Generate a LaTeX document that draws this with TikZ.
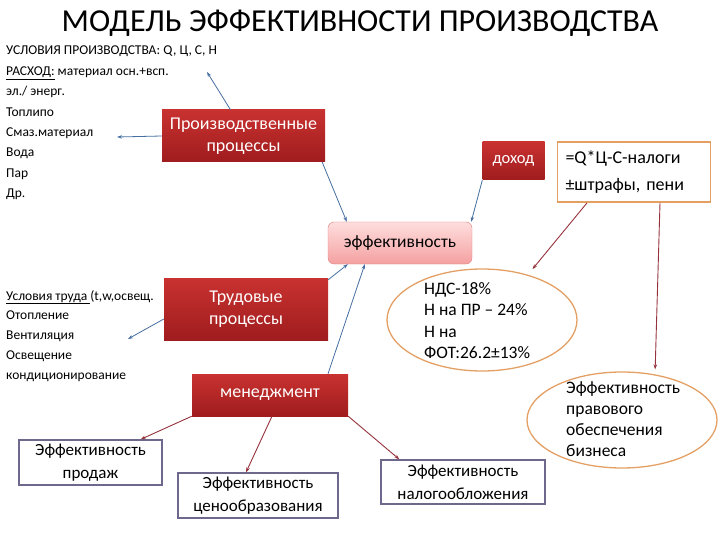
\documentclass[tikz,border=0pt]{standalone}
\usepackage{fontspec}
\setmainfont{Carlito}
\usetikzlibrary{arrows.meta,shapes.geometric}
\definecolor{procred}{RGB}{200,50,48}
\definecolor{procdark}{RGB}{160,28,30}
\definecolor{effpink}{RGB}{255,222,222}
\definecolor{effrose}{RGB}{244,160,160}
\definecolor{effedge}{RGB}{228,128,128}
\definecolor{linkblue}{RGB}{70,110,160}
\definecolor{linkred}{RGB}{150,50,60}
\definecolor{rimorange}{RGB}{228,160,100}
\definecolor{rimgrey}{RGB}{110,105,140}
\begin{document}
\begin{tikzpicture}[x=1pt,y=-1pt,
    procbox/.style={rectangle,top color=procred,bottom color=procdark,draw=none,
      text=white,align=center,font=\fontsize{18}{22}\selectfont},
    resultbox/.style={rectangle,draw=rimgrey,line width=1.3pt,fill=white,
      align=center,font=\fontsize{17}{23}\selectfont},
    noteoval/.style={ellipse,draw=rimorange,line width=1.3pt,fill=white,
      inner sep=0pt},
    bluelink/.style={linkblue,line width=0.8pt,-{Stealth[length=5pt,width=3.5pt]}},
    redlink/.style={linkred,line width=0.9pt,-{Stealth[length=5pt,width=3.5pt]}}]
    \useasboundingbox (0,0) rectangle (720,540);
    \node (title) at (360,23) {\fontsize{32}{36}\selectfont МОДЕЛЬ ЭФФЕКТИВНОСТИ ПРОИЗВОДСТВА};

    \node[anchor=north west,align=left,inner sep=0pt,font=\fontsize{13.5}{20.4}\selectfont]
      (conds) at (6,46) {УСЛОВИЯ ПРОИЗВОДСТВА: Q, Ц, С, Н\\
      \underline{РАСХОД:} материал осн.+всп.\\
      эл./ энерг.\\
      Топлипо\\
      Смаз.материал\\
      Вода\\
      Пар\\
      Др.};
    \node[anchor=north west,align=left,inner sep=0pt,font=\fontsize{13.5}{19.8}\selectfont]
      (labour) at (6,290) {\underline{Условия труда }(t,w,освещ.\\
      Отопление\\
      Вентиляция\\
      Освещение\\
      кондиционирование};

    \node[procbox,minimum width=163pt,minimum height=52pt] (prod) at (243.5,136)
      {Производственные\\процессы};
    \node[procbox,minimum width=62pt,minimum height=38pt,
      font=\fontsize{16.5}{20}\selectfont] (dohod) at (513.5,161) {доход};
    \node[rectangle,draw=rimorange,line width=1.8pt,fill=white,align=left,
      inner xsep=8pt,text width=137pt,minimum height=60pt,
      font=\fontsize{18}{27}\selectfont] (formula) at (634,172)
      {=Q*Ц-С-налоги\\±штрафы, пени};
    \node[rectangle,rounded corners=6pt,top color=effpink,bottom color=effrose,
      draw=effedge,minimum width=144pt,minimum height=42pt,
      font=\fontsize{17.5}{20}\selectfont] (eff) at (400,243) {эффективность};
    \node[noteoval,minimum width=190pt,minimum height=102pt] (nds) at (482,320) {};
    \node[anchor=north west,align=left,inner sep=0pt,font=\fontsize{17.5}{21.5}\selectfont]
      (ndstext) at (424,282) {НДС-18\%\\Н на ПР – 24\%\\Н на\\ФОТ:26.2±13\%};
    \node[noteoval,minimum width=190pt,minimum height=96pt] (pravo) at (622,420) {};
    \node[anchor=north west,align=left,inner sep=0pt,font=\fontsize{17.5}{21.3}\selectfont]
      (pravotext) at (566,381) {Эффективность\\правового\\обеспечения\\бизнеса};
    \node[procbox,minimum width=164pt,minimum height=62pt] (trud) at (246,309)
      {Трудовые\\процессы};
    \node[procbox,minimum width=156pt,minimum height=42pt] (menedzh) at (270,395)
      {менеджмент};
    \node[resultbox,minimum width=143pt,minimum height=45pt] (prodazh) at (90.5,462.5)
      {Эффективность\\продаж};
    \node[resultbox,minimum width=160pt,minimum height=45pt] (ceno) at (258,495.5)
      {Эффективность\\ценообразования};
    \node[resultbox,minimum width=164pt,minimum height=44pt] (nalog) at (463,482)
      {Эффективность\\налогообложения};

    \coordinate (rashod) at (207,72);
    \coordinate (smaz) at (117,137);
    \coordinate (vent) at (128,339);
    \draw[bluelink] ([xshift=-13pt]prod.north) -- (rashod);
    \draw[bluelink] (prod.west) -- (smaz);
    \draw[bluelink] ([xshift=-3pt]prod.south east) -- ([xshift=19pt]eff.north west);
    \draw[bluelink] (dohod.south west) -- ([xshift=-1pt]eff.north east);
    \draw[bluelink] ([yshift=-10pt]trud.west) -- (vent);
    \draw[bluelink] ([yshift=-2pt]trud.north east) -- ([xshift=20pt]eff.south west);
    \draw[bluelink] ([xshift=58pt]menedzh.north) -- ([xshift=37pt]eff.south west);
    \draw[redlink] ([xshift=-47pt]formula.south) -- ([yshift=7pt]nds.41);
    \draw[redlink] ([xshift=26pt]formula.south) -- ([yshift=5pt]pravo.54);
    \draw[redlink] (menedzh.south west) -- ([xshift=-22pt]prodazh.north east);
    \draw[redlink] ([xshift=2pt]menedzh.south) -- ([xshift=-12pt]ceno.north);
    \draw[redlink] (menedzh.south east) -- ([xshift=19pt]nalog.north west);
  \end{tikzpicture}
\end{document}
